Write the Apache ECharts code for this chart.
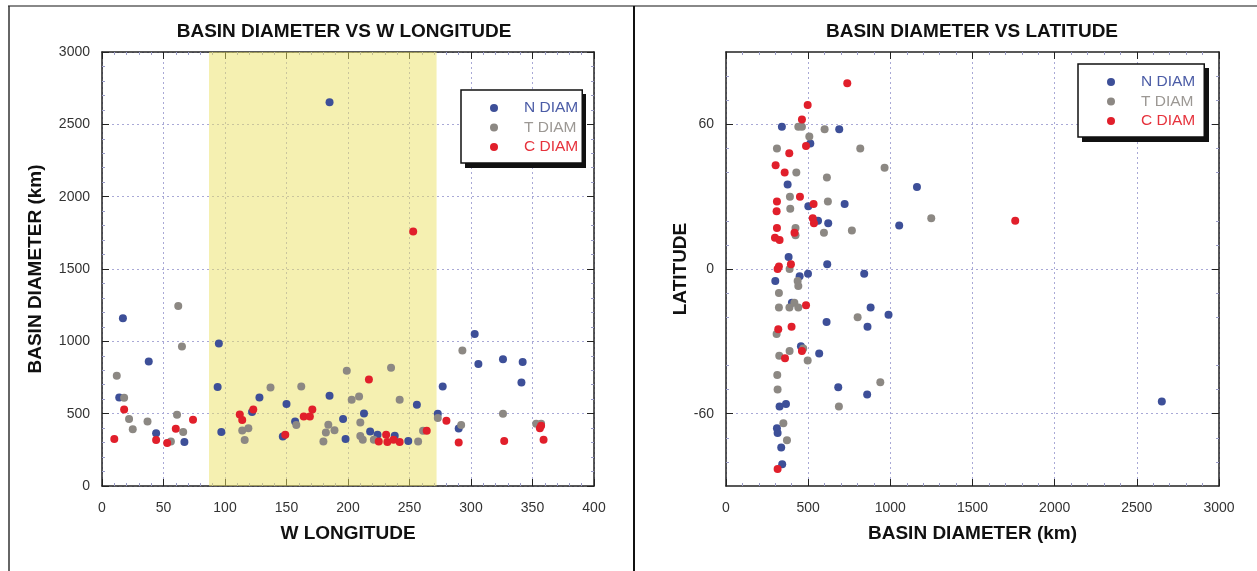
<!DOCTYPE html>
<html>
<head>
<meta charset="utf-8">
<script src="https://cdn.jsdelivr.net/npm/echarts@6.0.0/dist/echarts.min.js"></script>
<style>
  html, body { margin: 0; padding: 0; background: #fff; }
  #main { width: 1257px; height: 571px; }
</style>
</head>
<body>
<div id="main"></div>
<script>
// left panel: [W longitude, basin diameter km]
const lonN = [[17, 1160], [38, 860], [14, 612], [44, 365], [67, 305], [95, 985], [94, 684], [97, 373],
  [128, 612], [122, 511], [150, 566], [157, 446], [147, 343], [185, 624], [196, 463], [198, 325],
  [213, 502], [218, 377], [224, 354], [238, 347], [249, 311], [256, 561], [273, 499], [277, 688],
  [303, 1050], [306, 843], [326, 877], [342, 858], [341, 716], [290, 398], [185, 2652]]
const lonT = [[62, 1245], [65, 965], [12, 762], [18, 610], [22, 463], [25, 393], [37, 446], [61, 492],
  [66, 373], [56, 308], [114, 384], [119, 400], [116, 318], [137, 681], [162, 688], [158, 421],
  [184, 423], [182, 370], [189, 386], [180, 308], [199, 796], [203, 596], [209, 619], [235, 817],
  [242, 596], [210, 439], [210, 345], [212, 320], [221, 320], [261, 382], [257, 308], [273, 470],
  [292, 421], [293, 937], [326, 499], [353, 430], [357, 430]]
const lonC = [[10, 325], [18, 529], [44, 318], [53, 297], [60, 396], [74, 458], [112, 495], [114, 456],
  [123, 529], [149, 354], [164, 481], [169, 481], [171, 529], [217, 736], [231, 354], [225, 308],
  [232, 304], [237, 320], [242, 304], [264, 382], [280, 451], [290, 301], [327, 311], [356, 400],
  [357, 416], [359, 320], [253, 1760]]
const bandLon = [87, 272]

// right panel: [basin diameter km, latitude]
const latN = [[340, 59], [689, 58], [513, 52], [375, 35], [501, 26], [722, 27], [560, 20], [622, 19],
  [1054, 18], [1162, 34], [381, 5], [616, 2], [300, -5], [499, -2], [841, -2], [448, -3], [401, -14],
  [880, -16], [989, -19], [612, -22], [861, -24], [456, -32], [567, -35], [683, -49], [859, -52],
  [326, -57], [365, -56], [310, -66], [314, -68], [336, -74], [342, -81], [2652, -55]]
const latT = [[440, 59], [462, 59], [600, 58], [507, 55], [310, 50], [817, 50], [965, 42], [428, 40],
  [614, 38], [389, 30], [391, 25], [620, 28], [766, 16], [596, 15], [423, 17], [423, 14], [1249, 21],
  [387, 0], [436, -5], [440, -7], [322, -10], [322, -16], [386, -16], [416, -14], [440, -16],
  [801, -20], [308, -27], [387, -34], [324, -36], [470, -33], [497, -38], [312, -44], [314, -50],
  [939, -47], [687, -57], [349, -64], [371, -71]]
const latC = [[738, 77], [497, 68], [462, 62], [487, 51], [385, 48], [302, 43], [357, 40], [450, 30],
  [310, 28], [308, 24], [533, 27], [528, 21], [535, 19], [310, 17], [298, 13], [326, 12], [417, 15],
  [322, 1], [314, 0], [395, 2], [487, -15], [318, -25], [399, -24], [359, -37], [462, -34],
  [314, -83], [1760, 20]]
const latTicks = [-60, 0, 60]

const names = ['N DIAM', 'T DIAM', 'C DIAM']
const colors = ['#3d4f98', '#8c8883', '#e11f2b']
const textColors = ['#4b5ca6', '#9c9894', '#e6323c']
const font = 'Liberation Sans, Arial, sans-serif'

const chart = echarts.init(document.getElementById('main'))

function axis(gridIndex, position, min, max, interval, minorSplit, opts) {
  const main = position === 'bottom' || position === 'left'
  const a = {
    type: 'value',
    gridIndex: gridIndex,
    position: position,
    min: min,
    max: max,
    interval: interval,
    axisLine: { show: true, onZero: false, lineStyle: { color: '#222', width: 1.5 } },
    axisTick: { show: true, inside: true, length: 7, lineStyle: { color: '#222', width: 1 } },
    minorTick: { show: true, splitNumber: minorSplit, length: 3, lineStyle: { color: '#9a9cc6', width: 1 } },
    splitLine: { show: main, lineStyle: { color: '#a9a9d6', type: [2, 3], width: 1 } },
    axisLabel: {
      show: main, color: '#333', fontSize: 14, fontFamily: font,
      margin: position === 'bottom' ? 15 : 12,
      formatter: v => String(v)
    },
    nameTextStyle: { color: '#111', fontSize: 19, fontWeight: 'bold', fontFamily: font },
    nameLocation: 'middle'
  }
  return Object.assign(a, opts || {})
}

function legendAt(left, top, padRight) {
  return {
    orient: 'vertical',
    left: left,
    top: top,
    z: 5,
    selectedMode: false,
    icon: 'circle',
    itemWidth: 50,
    itemHeight: 8,
    itemGap: 3.5,
    padding: [10, padRight, 8, 29],
    backgroundColor: '#fff',
    borderColor: '#111',
    borderWidth: 1.5,
    textStyle: { fontSize: 15.5, lineHeight: 15, fontFamily: font },
    data: names.map((n, i) => ({ name: n, textStyle: { color: textColors[i] } }))
  }
}

function scatter(i, xi, yi, data) {
  return {
    name: names[i],
    type: 'scatter',
    xAxisIndex: xi,
    yAxisIndex: yi,
    symbolSize: 8,
    itemStyle: { color: colors[i], opacity: 1 },
    data: data
  }
}

const series = [
  scatter(0, 0, 0, lonN),
  scatter(1, 0, 0, lonT),
  scatter(2, 0, 0, lonC),
  scatter(0, 2, 2, latN),
  scatter(1, 2, 2, latT),
  scatter(2, 2, 2, latC)
]
series[0].markArea = {
  silent: true,
  itemStyle: { color: 'rgba(236, 226, 100, 0.5)' },
  data: [[{ xAxis: bandLon[0] }, { xAxis: bandLon[1] }]]
}

const option = {
  backgroundColor: '#fff',
  animation: false,
  title: [
    { text: 'BASIN DIAMETER VS W LONGITUDE', left: 339, top: 17, textAlign: 'center',
      textStyle: { fontSize: 19, fontWeight: 'bold', color: '#111', fontFamily: font } },
    { text: 'BASIN DIAMETER VS LATITUDE', left: 967, top: 17, textAlign: 'center',
      textStyle: { fontSize: 19, fontWeight: 'bold', color: '#111', fontFamily: font } }
  ],
  legend: [legendAt(461, 90, 4), legendAt(1078, 64, 9)],
  grid: [
    { left: 102, top: 52, width: 492, height: 434 },
    { left: 726, top: 52, width: 493, height: 434 }
  ],
  xAxis: [
    axis(0, 'bottom', 0, 400, 50, 5, { name: 'W LONGITUDE', nameGap: 38 }),
    axis(0, 'top', 0, 400, 50, 5),
    axis(1, 'bottom', 0, 3000, 500, 5, { name: 'BASIN DIAMETER (km)', nameGap: 38 }),
    axis(1, 'top', 0, 3000, 500, 5)
  ],
  yAxis: [
    axis(0, 'left', 0, 3000, 500, 5, { name: 'BASIN DIAMETER (km)', nameGap: 57 }),
    axis(0, 'right', 0, 3000, 500, 5),
    axis(1, 'left', -90, 90, 30, 3, { name: 'LATITUDE', nameGap: 32 }),
    axis(1, 'right', -90, 90, 30, 3)
  ],
  series: series,
  graphic: [
    { type: 'line', shape: { x1: 8, y1: 6, x2: 1257, y2: 6 }, style: { stroke: '#888', lineWidth: 2 } },
    { type: 'line', shape: { x1: 9, y1: 6, x2: 9, y2: 571 }, style: { stroke: '#333', lineWidth: 1.5 } },
    { type: 'line', shape: { x1: 634, y1: 6, x2: 634, y2: 571 }, style: { stroke: '#111', lineWidth: 2 } },
    // drop shadows behind the two legend boxes
    { type: 'rect', z: 3, shape: { x: 465, y: 94, width: 121, height: 74 }, style: { fill: '#111' } },
    { type: 'rect', z: 3, shape: { x: 1082, y: 68, width: 127, height: 74 }, style: { fill: '#111' } }
  ]
}

// latitude axis: labelled ticks only at -60, 0, 60
option.yAxis[2].axisTick.customValues = latTicks
option.yAxis[2].axisLabel.customValues = latTicks
option.yAxis[3].axisTick.customValues = latTicks

chart.setOption(option)
</script>
</body>
</html>
